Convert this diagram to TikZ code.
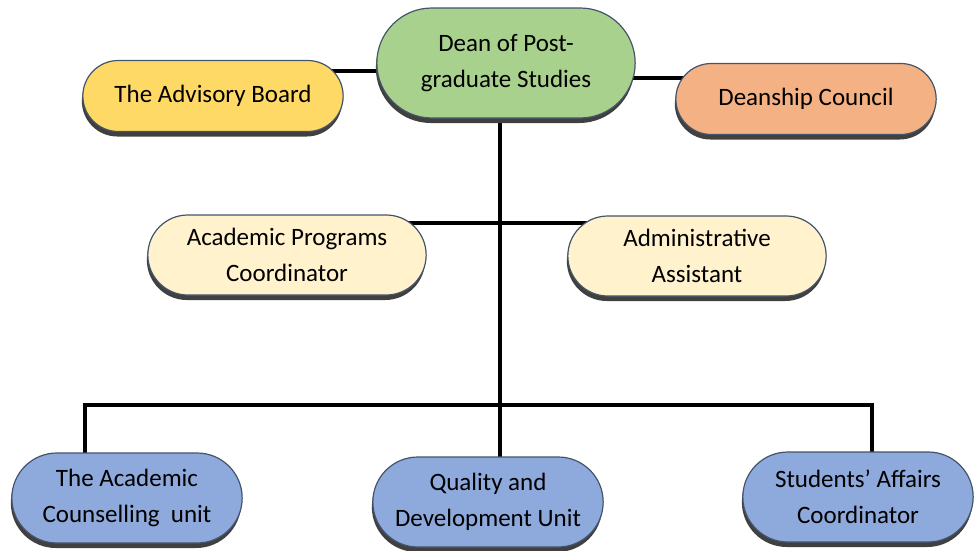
\documentclass[tikz,border=0pt]{standalone}
\usepackage{fontspec}
\setmainfont{Carlito}
\usetikzlibrary{shapes.misc,shadows,backgrounds}
\definecolor{deangreen}{HTML}{A9D18E}
\definecolor{advyellow}{HTML}{FFD966}
\definecolor{councilorange}{HTML}{F4B183}
\definecolor{staffcream}{HTML}{FFF2CC}
\definecolor{unitblue}{HTML}{8EA9DB}
\definecolor{rimblue}{HTML}{44546A}
\begin{document}
\begin{tikzpicture}[x=1pt,y=-1pt,
        box/.style={rounded rectangle,draw=rimblue,line width=1.2pt,align=center,
            text=black,font=\fontsize{25}{36}\selectfont,
            drop shadow={shadow xshift=-1pt,shadow yshift=-5pt,fill=black!75,opacity=1}},
        head/.style={box,fill=deangreen,minimum width=265pt,minimum height=110pt},
        side/.style={box,minimum width=267pt,minimum height=71pt},
        staff/.style={box,fill=staffcream,minimum height=80pt},
        unit/.style={box,fill=unitblue,minimum width=237pt,minimum height=90pt},
        link/.style={line width=4pt,black},
        ]
    \useasboundingbox (0,0) rectangle (977,550);
    % top row
    \node [head] (dean) at (506,63) {Dean of Post-\\graduate Studies};
    \node [side,fill=advyellow] (adv) at (213,96) {The Advisory Board};
    \node [side,fill=councilorange] (dsc) at (806,99) {Deanship Council};
    % staff row
    \node [staff,minimum width=285pt] (apc) at (287,255) {Academic Programs\\Coordinator};
    \node [staff,minimum width=265pt] (aas) at (697,256) {Administrative\\Assistant};
    % units
    \node [unit] (acu) at (127,498) {The Academic\\Counselling\ \ unit};
    \node [unit] (qdu) at (488,502) {Quality and\\Development Unit};
    \node [unit] (sac) at (858,497) {Students’ Affairs\\Coordinator};
    % connectors
    \coordinate (advline) at (360,71);
    \coordinate (dscline) at (655,78);
    \coordinate (stline) at (500,223);
    \coordinate (busL) at (85,405);
    \coordinate (trunk) at (500,405);
    \coordinate (busR) at (872,405);
    \begin{scope}[on background layer]
        \draw [link] (adv.center |- advline) -- (dean.center |- advline);
        \draw [link] (dean.center |- dscline) -- (dsc.center |- dscline);
        \draw [link] (dean.center -| trunk) -- (qdu.center -| trunk);
        \draw [link] (apc.center |- stline) -- (aas.center |- stline);
        \draw [link] (acu.center -| busL) -- (busL) -- (busR) -- (sac.center -| busR);
    \end{scope}
\end{tikzpicture}
\end{document}
